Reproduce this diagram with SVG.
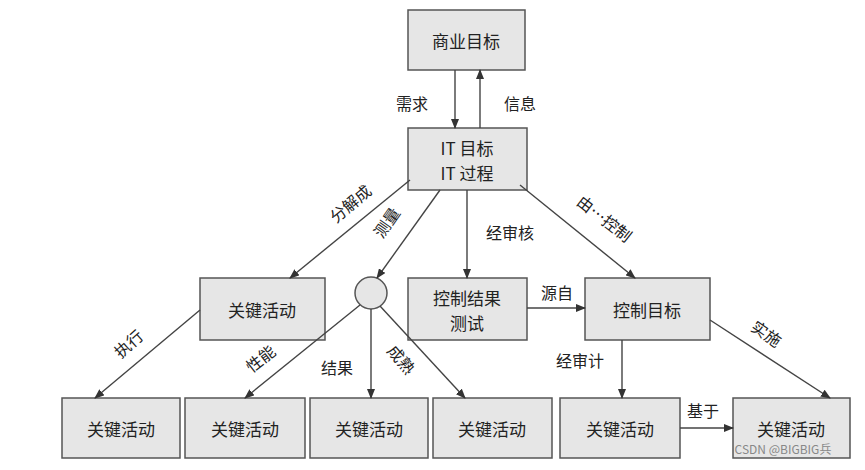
<svg xmlns="http://www.w3.org/2000/svg" width="865" height="470" viewBox="0 0 865 470">
<style>
.b{fill:#e6e6e6;stroke:#555;stroke-width:1.5}
.t{font-family:"Noto Sans CJK SC","Liberation Sans",sans-serif;font-size:17px;fill:#222;text-anchor:middle;dominant-baseline:central}
.l{font-family:"Noto Sans CJK SC","Liberation Sans",sans-serif;font-size:16px;fill:#222;text-anchor:middle;dominant-baseline:central}
.c line{stroke:#444;stroke-width:1.4;marker-end:url(#a)}
</style>
<defs><marker id="a" markerWidth="10" markerHeight="8" refX="9" refY="4" orient="auto" markerUnits="userSpaceOnUse"><path d="M0,0L10,4L0,8z" fill="#333"/></marker></defs>
<rect width="865" height="470" fill="#fff"/>
<g id="n1"><rect class="b" x="408" y="10" width="117" height="60"/><text class="t" x="466" y="40">商业目标</text></g>
<g id="n2"><rect class="b" x="408" y="128" width="119" height="62"/><text class="t" x="467" y="147">IT 目标</text><text class="t" x="467" y="172">IT 过程</text></g>
<g id="n3"><rect class="b" x="200" y="278" width="125" height="62"/><text class="t" x="262" y="309">关键活动</text></g>
<g id="n4"><circle cx="371" cy="293" r="16" fill="#e6e6e6" stroke="#555" stroke-width="1.5"/></g>
<g id="n5"><rect class="b" x="408" y="278" width="119" height="62"/><text class="t" x="467" y="297">控制结果</text><text class="t" x="467" y="322">测试</text></g>
<g id="n6"><rect class="b" x="585" y="278" width="125" height="62"/><text class="t" x="647" y="309">控制目标</text></g>
<g id="b1"><rect class="b" x="62" y="398" width="118" height="60"/><text class="t" x="121" y="428">关键活动</text></g>
<g id="b2"><rect class="b" x="185" y="398" width="120" height="60"/><text class="t" x="245" y="428">关键活动</text></g>
<g id="b3"><rect class="b" x="310" y="398" width="118" height="60"/><text class="t" x="369" y="428">关键活动</text></g>
<g id="b4"><rect class="b" x="433" y="398" width="119" height="60"/><text class="t" x="492" y="428">关键活动</text></g>
<g id="b5"><rect class="b" x="560" y="398" width="120" height="60"/><text class="t" x="620" y="428">关键活动</text></g>
<g id="b6"><rect class="b" x="733" y="398" width="117" height="60"/><text class="t" x="791" y="428">关键活动</text></g>
<g class="c" id="connectors">
<line x1="455" y1="70" x2="455" y2="128"/>
<line x1="480" y1="128" x2="480" y2="70"/>
<line x1="410" y1="180" x2="290" y2="278"/>
<line x1="440" y1="190" x2="377" y2="278"/>
<line x1="467" y1="190" x2="467" y2="278"/>
<line x1="520" y1="185" x2="635" y2="278"/>
<line x1="200" y1="310" x2="95" y2="398"/>
<line x1="360" y1="305" x2="245" y2="398"/>
<line x1="371" y1="309" x2="371" y2="398"/>
<line x1="380" y1="306" x2="465" y2="398"/>
<line x1="527" y1="308" x2="585" y2="308"/>
<line x1="622" y1="340" x2="622" y2="398"/>
<line x1="710" y1="320" x2="830" y2="398"/>
<line x1="680" y1="428" x2="733" y2="428"/>
</g>
<g id="labels">
<text class="l" x="412" y="103">需求</text>
<text class="l" x="520" y="103">信息</text>
<text class="l" x="350" y="203" transform="rotate(-40 350 203)">分解成</text>
<text class="l" x="386" y="222" transform="rotate(-55 386 222)">测量</text>
<text class="l" x="510" y="232">经审核</text>
<text class="l" x="605" y="218" transform="rotate(38 605 218)">由…控制</text>
<text class="l" x="128" y="343" transform="rotate(-42 128 343)">执行</text>
<text class="l" x="260" y="358" transform="rotate(-38 260 358)">性能</text>
<text class="l" x="337" y="367">结果</text>
<text class="l" x="402" y="359" transform="rotate(50 402 359)">成熟</text>
<text class="l" x="557" y="292">源自</text>
<text class="l" x="580" y="360">经审计</text>
<text class="l" x="767" y="333" transform="rotate(35 767 333)">实施</text>
<text class="l" x="703" y="410">基于</text>
<text x="783" y="454" font-family="Noto Sans CJK SC,Liberation Sans,sans-serif" font-size="12" fill="#888" text-anchor="middle">CSDN @BIGBIG兵</text>
</g>
</svg>
